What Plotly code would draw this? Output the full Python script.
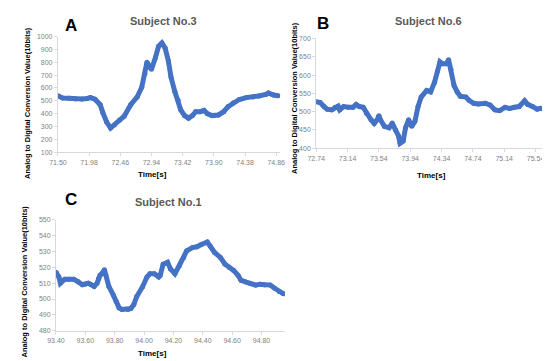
import plotly.graph_objects as go

W, H = 550, 361

# ---------------- data ----------------
a_time = [71.50, 71.57, 71.67, 71.77, 71.87, 71.95, 72.00, 72.07, 72.15, 72.19, 72.25, 72.31,
          72.37, 72.45, 72.52, 72.62, 72.72, 72.79, 72.84, 72.87, 72.92, 72.94, 73.00, 73.05,
          73.10, 73.15, 73.20, 73.24, 73.30, 73.35, 73.39, 73.45, 73.51, 73.57, 73.62, 73.69,
          73.75, 73.80, 73.87, 73.97, 74.05, 74.12, 74.20, 74.29, 74.40, 74.50, 74.59, 74.70,
          74.74, 74.82, 74.89]
a_val = [540, 522, 520, 515, 515, 518, 525, 512, 470, 410, 335, 288,
         312, 350, 380, 470, 530, 605, 710, 800, 760, 745, 835, 925,
         950, 910, 810, 685, 570, 505, 430, 385, 365, 385, 415, 415,
         425, 400, 385, 390, 415, 455, 485, 510, 525, 530, 538, 550,
         560, 545, 540]

b_time = [72.74, 72.79, 72.84, 72.88, 72.94, 72.98, 73.02, 73.04, 73.09, 73.15, 73.21, 73.25,
          73.29, 73.34, 73.38, 73.44, 73.48, 73.52, 73.54, 73.56, 73.61, 73.67, 73.71, 73.75,
          73.79, 73.81, 73.85, 73.88, 73.92, 73.96, 74.00, 74.04, 74.08, 74.15, 74.20, 74.25,
          74.29, 74.32, 74.35, 74.40, 74.43, 74.46, 74.50, 74.54, 74.58, 74.65, 74.69, 74.75,
          74.81, 74.90, 74.96, 75.02, 75.08, 75.15, 75.21, 75.27, 75.33, 75.40, 75.44, 75.50,
          75.56, 75.60, 75.67]
b_val = [527, 525, 514, 507, 505, 512, 515, 505, 514, 512, 512, 520,
         514, 512, 496, 478, 468, 478, 489, 478, 460, 456, 469, 451,
         434, 414, 420, 456, 478, 460, 474, 514, 540, 558, 554, 580,
         611, 636, 631, 631, 642, 616, 571, 554, 542, 540, 531, 523,
         521, 523, 518, 505, 503, 512, 509, 512, 514, 530, 520, 514,
         507, 509, 507]

c_time = [93.40, 93.42, 93.43, 93.46, 93.49, 93.52, 93.55, 93.58, 93.60, 93.62, 93.64, 93.66,
          93.68, 93.69, 93.70, 93.72, 93.73, 93.74, 93.76, 93.79, 93.81, 93.83, 93.85, 93.89,
          93.91, 93.93, 93.95, 93.99, 94.02, 94.04, 94.07, 94.10, 94.11, 94.13, 94.16, 94.18,
          94.21, 94.24, 94.27, 94.29, 94.33, 94.36, 94.39, 94.43, 94.45, 94.48, 94.52, 94.55,
          94.58, 94.61, 94.64, 94.66, 94.69, 94.72, 94.76, 94.79, 94.82, 94.86, 94.89, 94.92,
          94.95]
c_val = [517, 514, 510, 512.5, 512.5, 512.5, 511, 509, 509.5, 510, 509, 508,
         510, 513, 515, 517, 518.5, 515, 508, 502.6, 498.5, 494.4, 493.4, 493.4,
         494, 496.5, 501.6, 507.8, 514, 516, 516, 514, 515, 522, 523.2, 519,
         516, 521.2, 526.3, 530.4, 532.5, 533, 534.5, 536, 533.5, 529.4, 526.3, 522.2,
         520.1, 518.1, 515, 511.9, 510.9, 509.9, 508.8, 509.4, 508.8, 508.8, 506.8, 504.7,
         503.3]

titles = ["Subject No.3", "Subject No.6", "Subject No.1"]
letters = ["A", "B", "C"]
ylabel = "Analog to Digital Conversion Value(10bits)"
xlabel = "Time[s]"

# ---------------- layout helpers ----------------
def px(x):
    return x / W

def py(y):
    return 1 - y / H

BLUE = "#4472C4"
TICKC = "#7f7f7f"
AXC = "#d9d9d9"
FONT = "Liberation Sans, Arial, sans-serif"

fig = go.Figure()
panels = [
    dict(t=a_time, v=a_val, xr=[71.50, 74.92], x0=71.50, dx=0.48, yr=[100, 1000], dy=100,
         dom_x=[px(42), px(270)], dom_y=[py(143), py(25)]),
    dict(t=b_time, v=b_val, xr=[72.74, 75.70], x0=72.74, dx=0.40, yr=[400, 700], dy=50,
         dom_x=[px(307), px(545)], dom_y=[py(139), py(27)]),
    dict(t=c_time, v=c_val, xr=[93.40, 94.96], x0=93.40, dx=0.20, yr=[480, 550], dy=10,
         dom_x=[px(40), px(275)], dom_y=[py(325), py(212)]),
]

for i, p in enumerate(panels):
    n = "" if i == 0 else str(i + 1)
    fig.add_trace(go.Scatter(x=p["t"], y=p["v"], mode="lines+markers",
                             line=dict(color=BLUE, width=5),
                             marker=dict(color=BLUE, size=5),
                             xaxis="x" + n, yaxis="y" + n, showlegend=False,
                             hoverinfo="x+y"))
    axx = dict(domain=p["dom_x"], range=p["xr"], tick0=p["x0"], dtick=p["dx"],
               tickformat=".2f", showgrid=False, zeroline=False, showline=True,
               linecolor=AXC, linewidth=1, ticks="outside", ticklen=3, tickcolor=AXC,
               tickfont=dict(size=7, color=TICKC, family=FONT),
               anchor="y" + n)
    axy = dict(domain=p["dom_y"], range=p["yr"], dtick=p["dy"], tick0=p["yr"][0],
               showgrid=False, zeroline=False, showline=True,
               linecolor=AXC, linewidth=1, ticks="outside", ticklen=3, tickcolor=AXC,
               tickfont=dict(size=7, color=TICKC, family=FONT),
               anchor="x" + n)
    fig.update_layout(**{"xaxis" + n: axx, "yaxis" + n: axy})

ann = []
# titles
for txt, (x, y) in zip(titles, [(150, 9), (422, 9), (155, 194)]):
    ann.append(dict(text="<b>%s</b>" % txt, x=px(x), y=py(y), xref="paper", yref="paper",
                    showarrow=False, xanchor="center", yanchor="middle",
                    font=dict(size=11, color="#595959", family=FONT)))
# panel letters
for txt, (x, y) in zip(letters, [(55, 14), (314, 12), (55, 191)]):
    ann.append(dict(text="<b>%s</b>" % txt, x=px(x), y=py(y), xref="paper", yref="paper",
                    showarrow=False, xanchor="center", yanchor="middle",
                    font=dict(size=17, color="black", family=FONT)))
# y labels
for (x, y) in [(10, 93), (285, 88), (8, 275)]:
    ann.append(dict(text="<b>%s</b>" % ylabel, x=px(x), y=py(y), xref="paper", yref="paper",
                    showarrow=False, xanchor="center", yanchor="middle", textangle=-90,
                    font=dict(size=7.5, color="black", family=FONT)))
# x labels
for (x, y) in [(139, 166), (425, 167), (139, 348)]:
    ann.append(dict(text="<b>%s</b>" % xlabel, x=px(x), y=py(y), xref="paper", yref="paper",
                    showarrow=False, xanchor="center", yanchor="middle",
                    font=dict(size=8, color="black", family=FONT)))

fig.update_layout(width=W, height=H, margin=dict(l=0, r=0, t=0, b=0),
                  paper_bgcolor="white", plot_bgcolor="white", annotations=ann)

fig.write_html("out.html")
